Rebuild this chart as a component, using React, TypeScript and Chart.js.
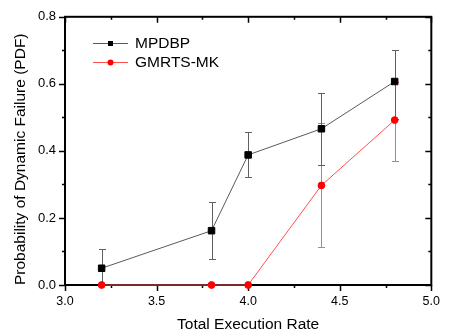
import React, { useEffect, useRef } from 'react';
import { Chart, registerables } from 'chart.js';

Chart.register(...registerables);

// ---- data ----
const xValues = [3.2, 3.8, 4.0, 4.4, 4.8];
const mpdbpValues = [0.05, 0.162, 0.388, 0.466, 0.607];
const mpdbpErrUp = [0.057, 0.085, 0.067, 0.108, 0.094];
const mpdbpErrDown = [0.057, 0.085, 0.067, 0.108, 0.112];
const gmrtsValues = [0, 0, 0, 0.297, 0.492];
const gmrtsErrUp = [0, 0, 0, 0.185, 0.115];
const gmrtsErrDown = [0, 0, 0, 0.185, 0.123];
const seriesLabels = ['MPDBP', 'GMRTS-MK'];
const xMajorTicks = [3.0, 3.5, 4.0, 4.5, 5.0];
const xMinorTicks = [3.25, 3.75, 4.25, 4.75];
const yMajorTicks = [0, 0.2, 0.4, 0.6, 0.8];
const yMinorTicks = [0.1, 0.3, 0.5, 0.7];
const xTitle = 'Total Execution Rate';
const yTitle = 'Probability of Dynamic Failure (PDF)';

const FONT = 'Liberation Sans, Arial, sans-serif';
const BLACK_LINE = '#5a5a5a';
const RED_LINE = '#ff5050';
const BLACK_ERR = '#606060';
const RED_ERR = '#ff6464';

const framePlugin = {
  id: 'originFrame',
  beforeDatasetsDraw(chart: any) {
    const { ctx, chartArea: a, scales } = chart;
    const xs = scales.x;
    const ys = scales.y;
    ctx.save();
    ctx.strokeStyle = '#000';
    ctx.lineWidth = 2;
    ctx.strokeRect(a.left, a.top, a.right - a.left, a.bottom - a.top);
    ctx.lineWidth = 1.5;
    ctx.beginPath();
    const tickX = (v: number, len: number) => {
      const px = Math.round(xs.getPixelForValue(v)) + 0.5;
      ctx.moveTo(px, a.bottom);
      ctx.lineTo(px, a.bottom + len);
      ctx.moveTo(px, a.top);
      ctx.lineTo(px, a.top + len);
    };
    const tickY = (v: number, len: number) => {
      const py = Math.round(ys.getPixelForValue(v)) + 0.5;
      ctx.moveTo(a.left, py);
      ctx.lineTo(a.left - len, py);
      ctx.moveTo(a.right, py);
      ctx.lineTo(a.right - len, py);
    };
    xMajorTicks.forEach((v) => tickX(v, 6));
    xMinorTicks.forEach((v) => tickX(v, 3));
    yMajorTicks.forEach((v) => tickY(v, 6));
    yMinorTicks.forEach((v) => tickY(v, 3));
    ctx.stroke();

    // error bars
    ctx.save();
    ctx.beginPath();
    ctx.rect(a.left, a.top, a.right - a.left, a.bottom - a.top);
    ctx.clip();
    ctx.lineWidth = 1;
    chart.data.datasets.forEach((ds: any) => {
      const up: number[] = ds.errUp;
      const down: number[] = ds.errDown;
      ctx.strokeStyle = ds.errorColor;
      ctx.beginPath();
      ds.data.forEach((p: any, j: number) => {
        if (!up[j] && !down[j]) return;
        const px = Math.round(xs.getPixelForValue(p.x)) + 0.5;
        const yt = Math.round(ys.getPixelForValue(p.y + up[j])) + 0.5;
        const yb = Math.round(ys.getPixelForValue(p.y - down[j])) + 0.5;
        ctx.moveTo(px, yt);
        ctx.lineTo(px, yb);
        ctx.moveTo(px - 3.5, yt);
        ctx.lineTo(px + 3.5, yt);
        ctx.moveTo(px - 3.5, yb);
        ctx.lineTo(px + 3.5, yb);
      });
      ctx.stroke();
    });
    ctx.restore();
    ctx.restore();
  },
  afterDraw(chart: any) {
    const { ctx } = chart;
    ctx.save();
    const rows = [
      { label: seriesLabels[0], y: 43.5, line: BLACK_LINE, fill: '#000', shape: 'rect' },
      { label: seriesLabels[1], y: 62.5, line: RED_LINE, fill: '#ff0000', shape: 'circle' },
    ];
    rows.forEach((r) => {
      ctx.strokeStyle = r.line;
      ctx.lineWidth = 1;
      ctx.beginPath();
      ctx.moveTo(93, r.y);
      ctx.lineTo(128, r.y);
      ctx.stroke();
      ctx.fillStyle = r.fill;
      if (r.shape === 'rect') {
        ctx.fillRect(108, r.y - 2.5, 5, 5);
      } else {
        ctx.beginPath();
        ctx.arc(110.5, r.y, 3, 0, Math.PI * 2);
        ctx.fill();
      }
      ctx.fillStyle = '#000';
      ctx.font = `15.5px ${FONT}`;
      ctx.textBaseline = 'middle';
      ctx.textAlign = 'left';
      ctx.fillText(r.label, 135, r.y);
    });
    ctx.restore();
  },
};

export default function App() {
  const ref = useRef<HTMLCanvasElement | null>(null);
  useEffect(() => {
    document.body.style.margin = '0';
    document.body.style.overflow = 'hidden';
    const canvas = ref.current;
    if (!canvas) return;
    const chart = new Chart(canvas, {
      type: 'line',
      data: {
        datasets: [
          {
            label: seriesLabels[1],
            data: xValues.map((x, i) => ({ x, y: gmrtsValues[i] })),
            errUp: gmrtsErrUp,
            errDown: gmrtsErrDown,
            errorColor: RED_ERR,
            borderColor: RED_LINE,
            backgroundColor: '#ff0000',
            pointBackgroundColor: '#ff0000',
            pointBorderColor: '#ff0000',
            pointStyle: 'circle',
            pointRadius: 3.4,
            pointBorderWidth: 1,
            borderWidth: 1,
            order: 0,
            clip: false,
          } as any,
          {
            label: seriesLabels[0],
            data: xValues.map((x, i) => ({ x, y: mpdbpValues[i] })),
            errUp: mpdbpErrUp,
            errDown: mpdbpErrDown,
            errorColor: BLACK_ERR,
            borderColor: BLACK_LINE,
            backgroundColor: '#000',
            pointBackgroundColor: '#000',
            pointBorderColor: '#000',
            pointStyle: 'rect',
            pointRadius: 4.6,
            pointBorderWidth: 1,
            borderWidth: 1,
            order: 1,
            clip: false,
          } as any,
        ],
      },
      options: {
        responsive: false,
        animation: false,
        devicePixelRatio: 1,
        layout: { padding: { top: 14, right: 14, left: 0, bottom: 0 }, autoPadding: false },
        plugins: { legend: { display: false }, tooltip: { enabled: false } },
        elements: { line: { tension: 0 } },
        scales: {
          x: {
            type: 'linear',
            min: 3,
            max: 5,
            grid: { display: false, drawTicks: false },
            border: { display: false },
            ticks: {
              stepSize: 0.5,
              autoSkip: false,
              maxRotation: 0,
              color: '#000',
              padding: 9,
              font: { family: FONT, size: 12.5 },
              callback: (v: any) => Number(v).toFixed(1),
            },
            title: {
              display: true,
              text: xTitle,
              color: '#000',
              font: { family: FONT, size: 15.5 },
              padding: { top: 0, bottom: 2 },
            },
            afterFit: (s: any) => {
              s.height = 51;
            },
          },
          y: {
            type: 'linear',
            min: 0,
            max: 0.8,
            grid: { display: false, drawTicks: false },
            border: { display: false },
            ticks: {
              stepSize: 0.2,
              color: '#000',
              padding: 9,
              font: { family: FONT, size: 13 },
              callback: (v: any) => Number(v).toFixed(1),
            },
            title: {
              display: true,
              text: yTitle,
              align: 'start',
              color: '#000',
              font: { family: FONT, size: 15.5 },
              padding: { top: 11.7, bottom: 0 },
            },
            afterFit: (s: any) => {
              s.width = 65;
            },
          },
        },
      } as any,
      plugins: [framePlugin],
    });
    return () => chart.destroy();
  }, []);
  return (
    <div style={{ width: 449, height: 336 }}>
      <canvas ref={ref} width={449} height={336} style={{ display: 'block' }} />
    </div>
  );
}
